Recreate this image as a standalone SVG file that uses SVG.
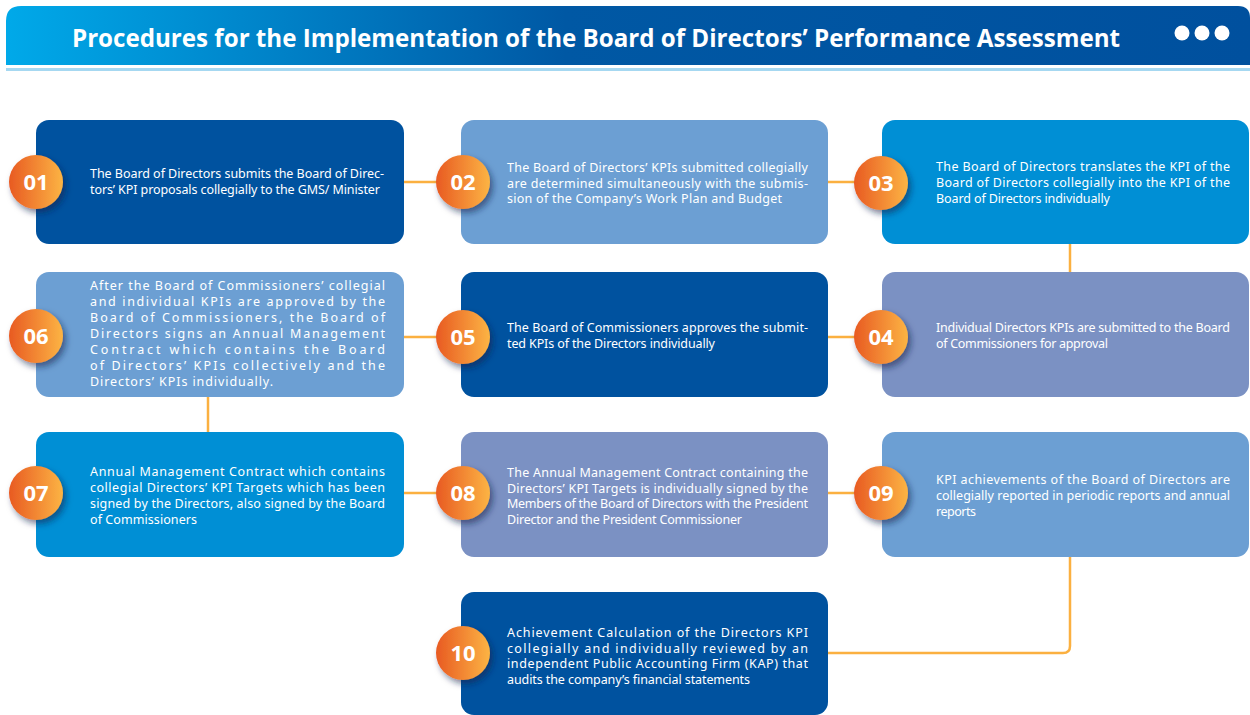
<svg xmlns="http://www.w3.org/2000/svg" width="1250" height="715" viewBox="0 0 1250 715">
<defs>
<linearGradient id="hdr" x1="0" y1="0" x2="1" y2="0">
<stop offset="0" stop-color="#00a9e9"/>
<stop offset="0.45" stop-color="#0058a4"/>
<stop offset="1" stop-color="#00509e"/>
</linearGradient>
<linearGradient id="badge" x1="0" y1="0" x2="1" y2="0">
<stop offset="0" stop-color="#e85a22"/>
<stop offset="1" stop-color="#fcb444"/>
</linearGradient>
<filter id="sh" x="-40%" y="-40%" width="190%" height="190%">
<feDropShadow dx="3" dy="4" stdDeviation="3" flood-color="#15234a" flood-opacity="0.55"/>
</filter>
</defs>
<style>
.title{font-family:"Open Sans","Liberation Sans",sans-serif;font-weight:700;font-size:25px;fill:#ffffff}
.t{font-family:"Noto Sans","Liberation Sans",sans-serif;font-size:12.5px;fill:#ffffff}
.num{font-family:"Open Sans","Liberation Sans",sans-serif;font-weight:700;font-size:22px;fill:#ffffff;text-anchor:middle}
.c1{fill:#00529f}
.c2{fill:#6c9fd3}
.c3{fill:#008fd5}
.c4{fill:#7b91c3}
.bd{fill:url(#badge);filter:url(#sh)}
.cn{fill:none;stroke:#fbb040;stroke-width:2.5}
</style>
<rect width="1250" height="715" fill="#ffffff"/>
<g id="header">
<path d="M6,65 V21 Q6,6 21,6 H1238 Q1250,6 1250,18 V65 Z" fill="url(#hdr)"/>
<rect x="6" y="68" width="1244" height="3" fill="#a6d8f1"/>
<text class="title" x="72" y="47" textLength="1048" lengthAdjust="spacingAndGlyphs">Procedures for the Implementation of the Board of Directors’ Performance Assessment</text>
<circle cx="1182" cy="33" r="7.5" fill="#ffffff"/>
<circle cx="1202" cy="33" r="7.5" fill="#ffffff"/>
<circle cx="1222" cy="33" r="7.5" fill="#ffffff"/>
</g>
<g id="connectors">
<line class="cn" x1="404" y1="182" x2="461" y2="182"/>
<line class="cn" x1="828" y1="182" x2="882" y2="182"/>
<line class="cn" x1="1070" y1="243" x2="1070" y2="272"/>
<line class="cn" x1="828" y1="337" x2="882" y2="337"/>
<line class="cn" x1="404" y1="337" x2="461" y2="337"/>
<line class="cn" x1="208" y1="396" x2="208" y2="432"/>
<line class="cn" x1="404" y1="493" x2="461" y2="493"/>
<line class="cn" x1="828" y1="493" x2="882" y2="493"/>
<path class="cn" d="M1070,557 V646 Q1070,653 1063,653 H828"/>
</g>
<g id="node01">
<rect class="c1" x="36" y="120" width="368" height="124" rx="13"/>
<circle class="bd" cx="36" cy="182" r="27"/>
<text class="num" x="36" y="190">01</text>
<text class="t" x="90" y="178" textLength="294">The Board of Directors submits the Board of Direc-</text>
<text class="t" x="90" y="194" textLength="290">tors’ KPI proposals collegially to the GMS/ Minister</text>
</g>
<g id="node02">
<rect class="c2" x="461" y="120" width="367" height="124" rx="13"/>
<circle class="bd" cx="463" cy="182" r="27"/>
<text class="num" x="463" y="190">02</text>
<text class="t" x="507" y="172" textLength="301">The Board of Directors’ KPIs submitted collegially</text>
<text class="t" x="507" y="187.5" textLength="301">are determined simultaneously with the submis-</text>
<text class="t" x="507" y="203" textLength="275">sion of the Company’s Work Plan and Budget</text>
</g>
<g id="node03">
<rect class="c3" x="882" y="120" width="367" height="124" rx="13"/>
<circle class="bd" cx="881" cy="183" r="27"/>
<text class="num" x="881" y="191">03</text>
<text class="t" x="936" y="171" textLength="294">The Board of Directors translates the KPI of the</text>
<text class="t" x="936" y="187" textLength="294">Board of Directors collegially into the KPI of the</text>
<text class="t" x="936" y="203" textLength="174">Board of Directors individually</text>
</g>
<g id="node04">
<rect class="c4" x="882" y="272" width="367" height="125" rx="13"/>
<circle class="bd" cx="881" cy="337" r="27"/>
<text class="num" x="881" y="345">04</text>
<text class="t" x="936" y="331.5" textLength="294">Individual Directors KPIs are submitted to the Board</text>
<text class="t" x="936" y="347.5" textLength="172">of Commissioners for approval</text>
</g>
<g id="node05">
<rect class="c1" x="461" y="272" width="367" height="125" rx="13"/>
<circle class="bd" cx="463" cy="337" r="27"/>
<text class="num" x="463" y="345">05</text>
<text class="t" x="507" y="331.5" textLength="301">The Board of Commissioners approves the submit-</text>
<text class="t" x="507" y="348" textLength="208">ted KPIs of the Directors individually</text>
</g>
<g id="node06">
<rect class="c2" x="36" y="272" width="368" height="125" rx="13"/>
<circle class="bd" cx="36" cy="336" r="27"/>
<text class="num" x="36" y="344">06</text>
<text class="t" x="90" y="290" textLength="295">After the Board of Commissioners’ collegial</text>
<text class="t" x="90" y="306" textLength="295">and individual KPIs are approved by the</text>
<text class="t" x="90" y="322" textLength="295">Board of Commissioners, the Board of</text>
<text class="t" x="90" y="338" textLength="295">Directors signs an Annual Management</text>
<text class="t" x="90" y="354" textLength="295">Contract which contains the Board</text>
<text class="t" x="90" y="370" textLength="295">of Directors’ KPIs collectively and the</text>
<text class="t" x="90" y="386" textLength="183">Directors’ KPIs individually.</text>
</g>
<g id="node07">
<rect class="c3" x="36" y="432" width="368" height="125" rx="13"/>
<circle class="bd" cx="36" cy="493" r="27"/>
<text class="num" x="36" y="501">07</text>
<text class="t" x="90" y="476" textLength="295">Annual Management Contract which contains</text>
<text class="t" x="90" y="492" textLength="295">collegial Directors’ KPI Targets which has been</text>
<text class="t" x="90" y="508" textLength="295">signed by the Directors, also signed by the Board</text>
<text class="t" x="90" y="524" textLength="107">of Commissioners</text>
</g>
<g id="node08">
<rect class="c4" x="461" y="432" width="367" height="125" rx="13"/>
<circle class="bd" cx="463" cy="493" r="27"/>
<text class="num" x="463" y="501">08</text>
<text class="t" x="507" y="476.5" textLength="301">The Annual Management Contract containing the</text>
<text class="t" x="507" y="492.5" textLength="301">Directors’ KPI Targets is individually signed by the</text>
<text class="t" x="507" y="508" textLength="301">Members of the Board of Directors with the President</text>
<text class="t" x="507" y="524" textLength="235">Director and the President Commissioner</text>
</g>
<g id="node09">
<rect class="c2" x="882" y="432" width="367" height="125" rx="13"/>
<circle class="bd" cx="881" cy="493" r="27"/>
<text class="num" x="881" y="501">09</text>
<text class="t" x="936" y="484" textLength="294">KPI achievements of the Board of Directors are</text>
<text class="t" x="936" y="500" textLength="294">collegially reported in periodic reports and annual</text>
<text class="t" x="936" y="516" textLength="40">reports</text>
</g>
<g id="node10">
<rect class="c1" x="461" y="592" width="367" height="123" rx="13"/>
<circle class="bd" cx="463" cy="653" r="27"/>
<text class="num" x="463" y="661">10</text>
<text class="t" x="507" y="636.5" textLength="301">Achievement Calculation of the Directors KPI</text>
<text class="t" x="507" y="652.5" textLength="301">collegially and individually reviewed by an</text>
<text class="t" x="507" y="668" textLength="301">independent Public Accounting Firm (KAP) that</text>
<text class="t" x="507" y="684" textLength="243">audits the company’s financial statements</text>
</g>
</svg>
